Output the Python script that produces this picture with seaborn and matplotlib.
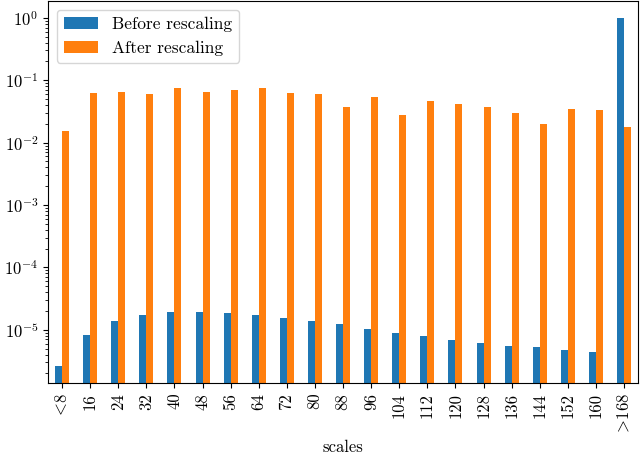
import pandas as pd
import matplotlib
matplotlib.use("Agg")
import matplotlib.pyplot as plt
import seaborn as sns

# scale bins and the fraction of boxes in each one
scales = [r"$\!<\!$8", "16", "24", "32", "40", "48", "56", "64", "72", "80", "88",
          "96", "104", "112", "120", "128", "136", "144", "152", "160", r"$\!>\!$168"]
before = [2.6e-6, 8.3e-6, 1.4e-5, 1.74e-5, 1.94e-5, 1.94e-5, 1.87e-5, 1.74e-5,
          1.56e-5, 1.4e-5, 1.23e-5, 1.04e-5, 8.8e-6, 8.0e-6, 6.9e-6, 6.2e-6,
          5.6e-6, 5.3e-6, 4.7e-6, 4.4e-6, 1.0]
after = [0.0155, 0.062, 0.066, 0.060, 0.074, 0.066, 0.069, 0.074, 0.062, 0.060,
         0.037, 0.053, 0.028, 0.046, 0.041, 0.037, 0.0295, 0.020, 0.034, 0.033,
         0.0176]

plt.rcParams['font.family'] = 'serif'
plt.rcParams['font.serif'] = ['cmr10']
plt.rcParams['mathtext.fontset'] = 'cm'
plt.rcParams['axes.formatter.use_mathtext'] = True
plt.rcParams['font.size'] = 12

df = pd.DataFrame({
    "scales": scales * 2,
    "value": before + after,
    "kind": ["Before rescaling"] * len(scales) + ["After rescaling"] * len(scales),
})

fig, ax = plt.subplots(figsize=(6.4, 4.55), dpi=100)
sns.barplot(data=df, x="scales", y="value", hue="kind", width=0.5,
            palette=["#1f77b4", "#ff7f0e"], saturation=1, ax=ax)
ax.set_yscale('log')
ax.set_ylim(1.4e-6, 1.87)
ax.set_xlim(-0.5, len(scales) - 0.5)
ax.set_ylabel("")
ax.set_xlabel("scales", labelpad=5)
plt.xticks(rotation=90)
sns.move_legend(ax, "upper left", title=None, fontsize=12.5)
fig.subplots_adjust(left=0.075, right=0.997, bottom=0.158, top=0.998)
fig.savefig("out.png", dpi=100)
